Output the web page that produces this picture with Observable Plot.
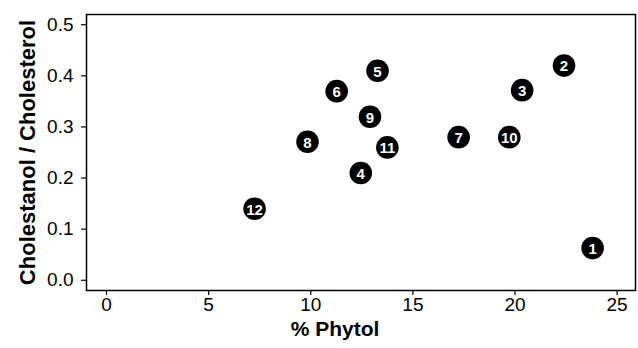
<!DOCTYPE html>
<html>
<head>
<meta charset="utf-8">
<script src="https://cdn.jsdelivr.net/npm/d3@7"></script>
<script src="https://cdn.jsdelivr.net/npm/@observablehq/plot@0.6"></script>
<style>
  html, body { margin: 0; padding: 0; background: #fff; }
  #chart { width: 638px; height: 348px; }
</style>
</head>
<body>
<div id="chart"></div>
<script>
const ids = [1, 2, 3, 4, 5, 6, 7, 8, 9, 10, 11, 12];
const phytol = [23.8, 22.4, 20.35, 12.45, 13.27, 11.27, 17.24, 9.84, 12.9, 19.72, 13.75, 7.25];
const ratio = [0.063, 0.42, 0.372, 0.21, 0.41, 0.37, 0.28, 0.271, 0.32, 0.28, 0.26, 0.14];
const xTicks = [0, 5, 10, 15, 20, 25];
const yTicks = [0, 0.1, 0.2, 0.3, 0.4, 0.5];
const xTitle = "% Phytol";
const yTitle = "Cholestanol / Cholesterol";

const data = ids.map((id, i) => ({id, x: phytol[i], y: ratio[i]}));

const plot = Plot.plot({
  width: 638,
  height: 348,
  marginLeft: 86,
  marginRight: 3,
  marginTop: 14,
  marginBottom: 58,
  style: {fontFamily: "Liberation Sans, Arial, sans-serif", color: "#000", background: "#fff"},
  x: {domain: [-0.98, 25.9]},
  y: {domain: [-0.02, 0.52]},
  marks: [
    Plot.frame({stroke: "#000", strokeWidth: 1.5}),
    Plot.axisX(xTicks, {tickSize: 5, tickPadding: 2, fontSize: 19, label: null, stroke: "#000", strokeWidth: 1.2}),
    Plot.axisY(yTicks, {tickSize: 5, tickPadding: 8, fontSize: 19, label: null, tickFormat: d3.format(".1f"), stroke: "#000", strokeWidth: 1.2}),
    Plot.dot(data, {x: "x", y: "y", r: 11.3, fill: "#000", stroke: "none"}),
    Plot.text(data, {x: "x", y: "y", text: d => String(d.id), fill: "#fff", fontWeight: "bold", fontSize: 15,
      dy: 1, letterSpacing: d => d.id >= 10 ? "-1.8px" : "0px"}),
    Plot.text([xTitle], {frameAnchor: "bottom", text: d => d, dx: -26, dy: 45, fontSize: 21, fontWeight: "bold", fill: "#000"}),
    Plot.text([yTitle], {frameAnchor: "left", textAnchor: "middle", text: d => d, dx: -59, rotate: -90, fontSize: 22, fontWeight: "bold", fill: "#000"})
  ]
});
document.getElementById("chart").appendChild(plot);
</script>
</body>
</html>
